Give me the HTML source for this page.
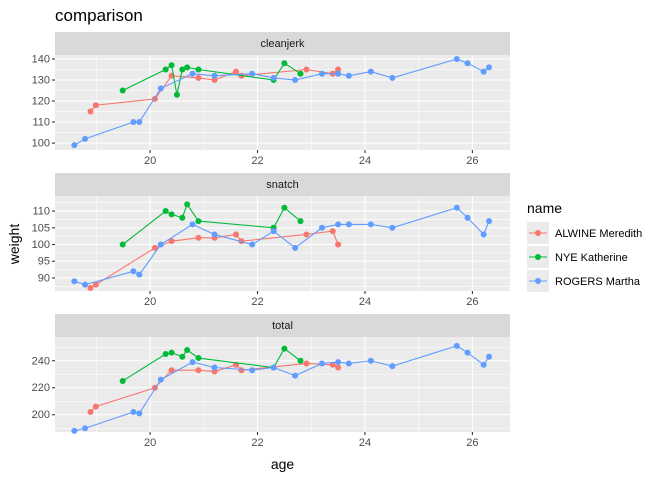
<!DOCTYPE html>
<html><head><meta charset="utf-8"><style>
body{margin:0;background:#fff;}
svg{display:block;font-family:"Liberation Sans",sans-serif;}
</style></head><body>
<svg id="chart" width="672" height="480"></svg>
<script>
const ages = {
  ALWINE:[18.89,18.99,20.09,20.40,20.90,21.20,21.60,21.70,22.91,23.40,23.50],
  NYE:[19.49,20.29,20.40,20.50,20.60,20.69,20.90,22.30,22.50,22.80],
  ROGERS:[18.59,18.79,19.69,19.80,20.20,20.79,21.20,21.90,22.30,22.70,23.20,23.50,23.70,24.11,24.51,25.71,25.91,26.21,26.31]
};
const cleanjerkAlwine=[115,118,121,132,131,130,134,132,135,133,135];
const snatchAlwine=[87,88,99,101,102,102,103,101,103,104,100];
const totalAlwine=[202,206,220,233,233,232,237,233,238,237,235];
const cleanjerkNye=[125,135,137,123,135,136,135,130,138,133];
const snatchNye=[100,110,109,null,108,112,107,105,111,107];
const totalNye=[225,245,246,null,243,248,242,235,249,240];
const cleanjerkRogers=[99,102,110,110,126,133,132,133,131,130,133,133,132,134,131,140,138,134,136];
const snatchRogers=[89,88,92,91,100,106,103,100,104,99,105,106,106,106,105,111,108,103,107];
const totalRogers=[188,190,202,201,226,239,235,233,235,229,238,239,238,240,236,251,246,237,243];
const xTicks=[20,22,24,26];
const names=["ALWINE Meredith","NYE Katherine","ROGERS Martha"];
const colors=["#F8766D","#00BA38","#619CFF"];

const NS="http://www.w3.org/2000/svg";
const svg=document.getElementById('chart');
function mk(tag,attrs,parent){const e=document.createElementNS(NS,tag);for(const k in attrs)e.setAttribute(k,attrs[k]);(parent||svg).appendChild(e);return e;}
const PX0=55,PX1=510,A0=18.23,A1=26.7;
function xs(a){return PX0+(a-A0)/(A1-A0)*(PX1-PX0);}

const panels=[
 {title:"cleanjerk",top:55,lo:96.7,hi:141.9,major:[100,110,120,130,140],minor:[105,115,125,135],data:[cleanjerkAlwine,cleanjerkNye,cleanjerkRogers]},
 {title:"snatch",top:196,lo:86.1,hi:114.5,major:[90,95,100,105,110],minor:[87.5,92.5,97.5,102.5,107.5,112.5],data:[snatchAlwine,snatchNye,snatchRogers]},
 {title:"total",top:337,lo:187.2,hi:257.6,major:[200,220,240],minor:[190,210,230,250],data:[totalAlwine,totalNye,totalRogers]}
];
const H=95;
mk('text',{x:55,y:21,'font-size':17,fill:'#000'}).textContent='comparison';


const series=[ages.ALWINE,ages.NYE,ages.ROGERS];
panels.forEach(p=>{
  const g=mk('g',{});
  
  
  const ys=v=>p.top+H-(v-p.lo)/(p.hi-p.lo)*H;
  const strip=mk('rect',{x:PX0,y:p.top-23,width:PX1-PX0,height:23,fill:'#D9D9D9'},g);
  
  
  const st=mk('text',{x:(PX0+PX1)/2,y:p.top-8,'font-size':11,fill:'#1A1A1A','text-anchor':'middle'},g);
  st.textContent=p.title;
  
  
  mk('rect',{x:PX0,y:p.top,width:PX1-PX0,height:H,fill:'#EBEBEB'},g);
  p.minor.forEach(v=>mk('line',{x1:PX0,x2:PX1,y1:ys(v),y2:ys(v),stroke:'#fff','stroke-width':0.55},g));
  [19,21,23,25].forEach(a=>mk('line',{x1:xs(a),x2:xs(a),y1:p.top,y2:p.top+H,stroke:'#fff','stroke-width':0.55},g));
  p.major.forEach(v=>{
    mk('line',{x1:PX0,x2:PX1,y1:ys(v),y2:ys(v),stroke:'#fff','stroke-width':1.1},g);
    mk('line',{x1:PX0-3,x2:PX0,y1:ys(v),y2:ys(v),stroke:'#333','stroke-width':1.1},g);
    const t=mk('text',{x:PX0-5,y:ys(v)+3.5,'font-size':11,fill:'#4D4D4D','text-anchor':'end'},g);
    t.textContent=v;
    
    
  });
  xTicks.forEach(a=>{
    mk('line',{x1:xs(a),x2:xs(a),y1:p.top,y2:p.top+H,stroke:'#fff','stroke-width':1.1},g);
    mk('line',{x1:xs(a),x2:xs(a),y1:p.top+H,y2:p.top+H+3,stroke:'#333','stroke-width':1.1},g);
    const t=mk('text',{x:xs(a),y:p.top+H+14,'font-size':11,fill:'#4D4D4D','text-anchor':'middle'},g);
    t.textContent=a;
    
    
  });
  p.data.forEach((vals,si)=>{
    const pts=[];
    vals.forEach((v,i)=>{if(v!==null)pts.push([xs(series[si][i]),ys(v)]);});
    const pl=mk('polyline',{points:pts.map(q=>q.join(',')).join(' '),fill:'none',stroke:colors[si],'stroke-width':1.1},g);
    
    
    pts.forEach(q=>{
      const c=mk('circle',{cx:q[0],cy:q[1],r:3,fill:colors[si]},g);
      
      
    });
  });
});
let t=mk('text',{x:(PX0+PX1)/2,y:469,'font-size':14,fill:'#000','text-anchor':'middle'});
t.textContent='age';


t=mk('text',{x:0,y:0,'font-size':14,fill:'#000','text-anchor':'middle',transform:'translate(19,244) rotate(-90)'});
t.textContent='weight';


t=mk('text',{x:527,y:213,'font-size':14,fill:'#000'});
t.textContent='name';


names.forEach((n,i)=>{
  const y=233+i*24;
  const lg=mk('g',{});
  
  
  mk('rect',{x:527,y:y-11,width:22,height:22,fill:'#EBEBEB'},lg);
  mk('line',{x1:529,x2:547,y1:y,y2:y,stroke:colors[i],'stroke-width':1.1},lg);
  mk('circle',{cx:538,cy:y,r:3,fill:colors[i]},lg);
  const tx=mk('text',{x:555,y:y+4,'font-size':11,fill:'#000'},lg);
  tx.textContent=n;
});
</script>
</body></html>
